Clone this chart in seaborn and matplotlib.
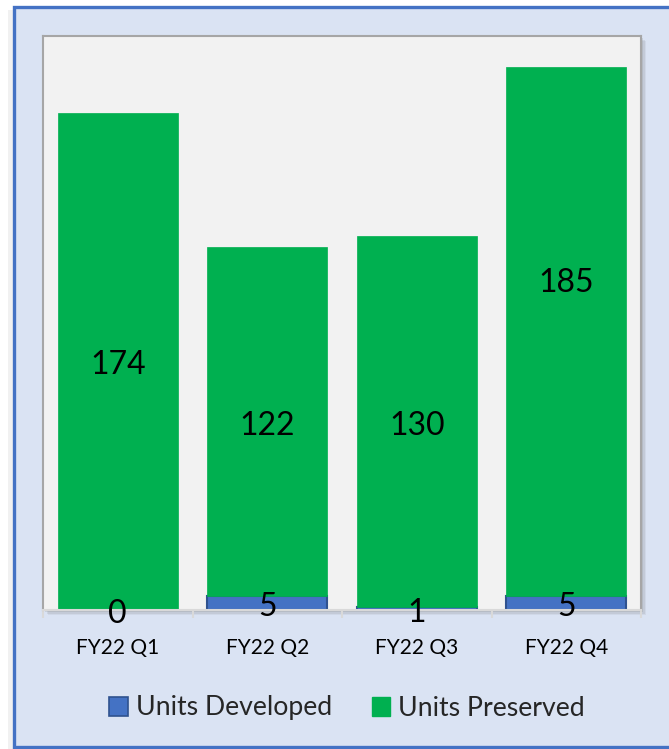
import matplotlib
matplotlib.use("Agg")
import matplotlib.pyplot as plt
import seaborn as sns
import numpy as np
from matplotlib.patches import Rectangle, Patch

quarters = ["FY22 Q1", "FY22 Q2", "FY22 Q3", "FY22 Q4"]
developed = [0, 5, 1, 5]
preserved = [174, 122, 130, 185]
series_names = ["Units Developed", "Units Preserved"]

BLUE = "#4472c4"
BLUE_EDGE = "#2f528f"
GREEN = "#00b050"
OUTER_BG = "#dae3f3"
PLOT_BG = "#f2f2f2"

sns.set_theme(style="white")
plt.rcParams["font.family"] = ["Lato", "DejaVu Sans"]

W, H = 669, 749
fig = plt.figure(figsize=(W / 100, H / 100), dpi=100)
fig.patch.set_facecolor("white")

def fx(px):
    return px / W

def fy(py):
    return 1 - py / H

# outer frame
fig.patches.append(Rectangle((fx(8), fy(751)), fx(700), fy(10) - fy(751),
                             transform=fig.transFigure, facecolor="#e8e8e8",
                             edgecolor="none", zorder=0, alpha=0.6))
fig.patches.append(Rectangle((fx(13.5), fy(747)), fx(700), fy(6.5) - fy(747),
                             transform=fig.transFigure, facecolor=OUTER_BG,
                             edgecolor=BLUE, linewidth=2.4, zorder=1))

# plot area shadow
for off, a in [(5, 0.10), (3.5, 0.15), (2, 0.2)]:
    fig.patches.append(Rectangle((fx(43 + off), fy(610 + off)), fx(598), fy(36) - fy(610),
                                 transform=fig.transFigure, facecolor="#7f7f7f",
                                 edgecolor="none", alpha=a, zorder=2))

ax = fig.add_axes([fx(43), fy(610), fx(598), fy(36) - fy(610)])
ax.set_zorder(3)
ax.set_facecolor(PLOT_BG)

sns.barplot(x=quarters, y=developed, color=BLUE, edgecolor=BLUE_EDGE,
            linewidth=1.5, saturation=1, width=0.8, ax=ax)
sns.barplot(x=quarters, y=preserved, bottom=developed, color=GREEN, edgecolor=GREEN,
            linewidth=0.5, saturation=1, width=0.8, ax=ax)
if ax.get_legend() is not None:
    ax.get_legend().remove()

for p in ax.containers[0]:
    if p.get_height() == 0:
        p.set_linewidth(0)

dev_labels = ax.bar_label(ax.containers[0], labels=[str(v) for v in developed],
                          label_type="center", fontsize=23, color="black")
pre_labels = ax.bar_label(ax.containers[1], labels=[str(v) for v in preserved],
                          label_type="center", fontsize=23, color="black")
for t in list(dev_labels) + list(pre_labels):
    t.xyann = (0, -3)
# the reference places the last quarter's label higher in its segment
pre_labels[3].xyann = (0, 35)

ax.set_ylim(0, 200.8)
ax.set_xlim(-0.5, 3.5)
ax.set_yticks([])
ax.set_xlabel("")
ax.set_ylabel("")

ax.set_xticks(np.arange(-0.5, 4, 1), minor=True)
ax.tick_params(axis="x", which="minor", length=6, color="#d9d9d9", width=1.5, direction="out", bottom=True)
ax.tick_params(axis="x", which="major", length=0, pad=20.5, labelsize=15, labelcolor="black")

for s in ["top", "left", "right"]:
    ax.spines[s].set_color("#a6a6a6")
    ax.spines[s].set_linewidth(1.5)
ax.spines["bottom"].set_color("#d9d9d9")
ax.spines["bottom"].set_linewidth(1.5)

handles = [Patch(facecolor=BLUE, edgecolor=BLUE_EDGE, linewidth=1.2),
           Patch(facecolor=GREEN, edgecolor=GREEN)]
fig.legend(handles, series_names, loc="center", bbox_to_anchor=(fx(347), fy(708)),
           ncol=2, frameon=False, fontsize=19.2, handlelength=0.7, handleheight=0.7,
           handletextpad=0.3, columnspacing=1.5)

fig.savefig("out.png", dpi=100)
